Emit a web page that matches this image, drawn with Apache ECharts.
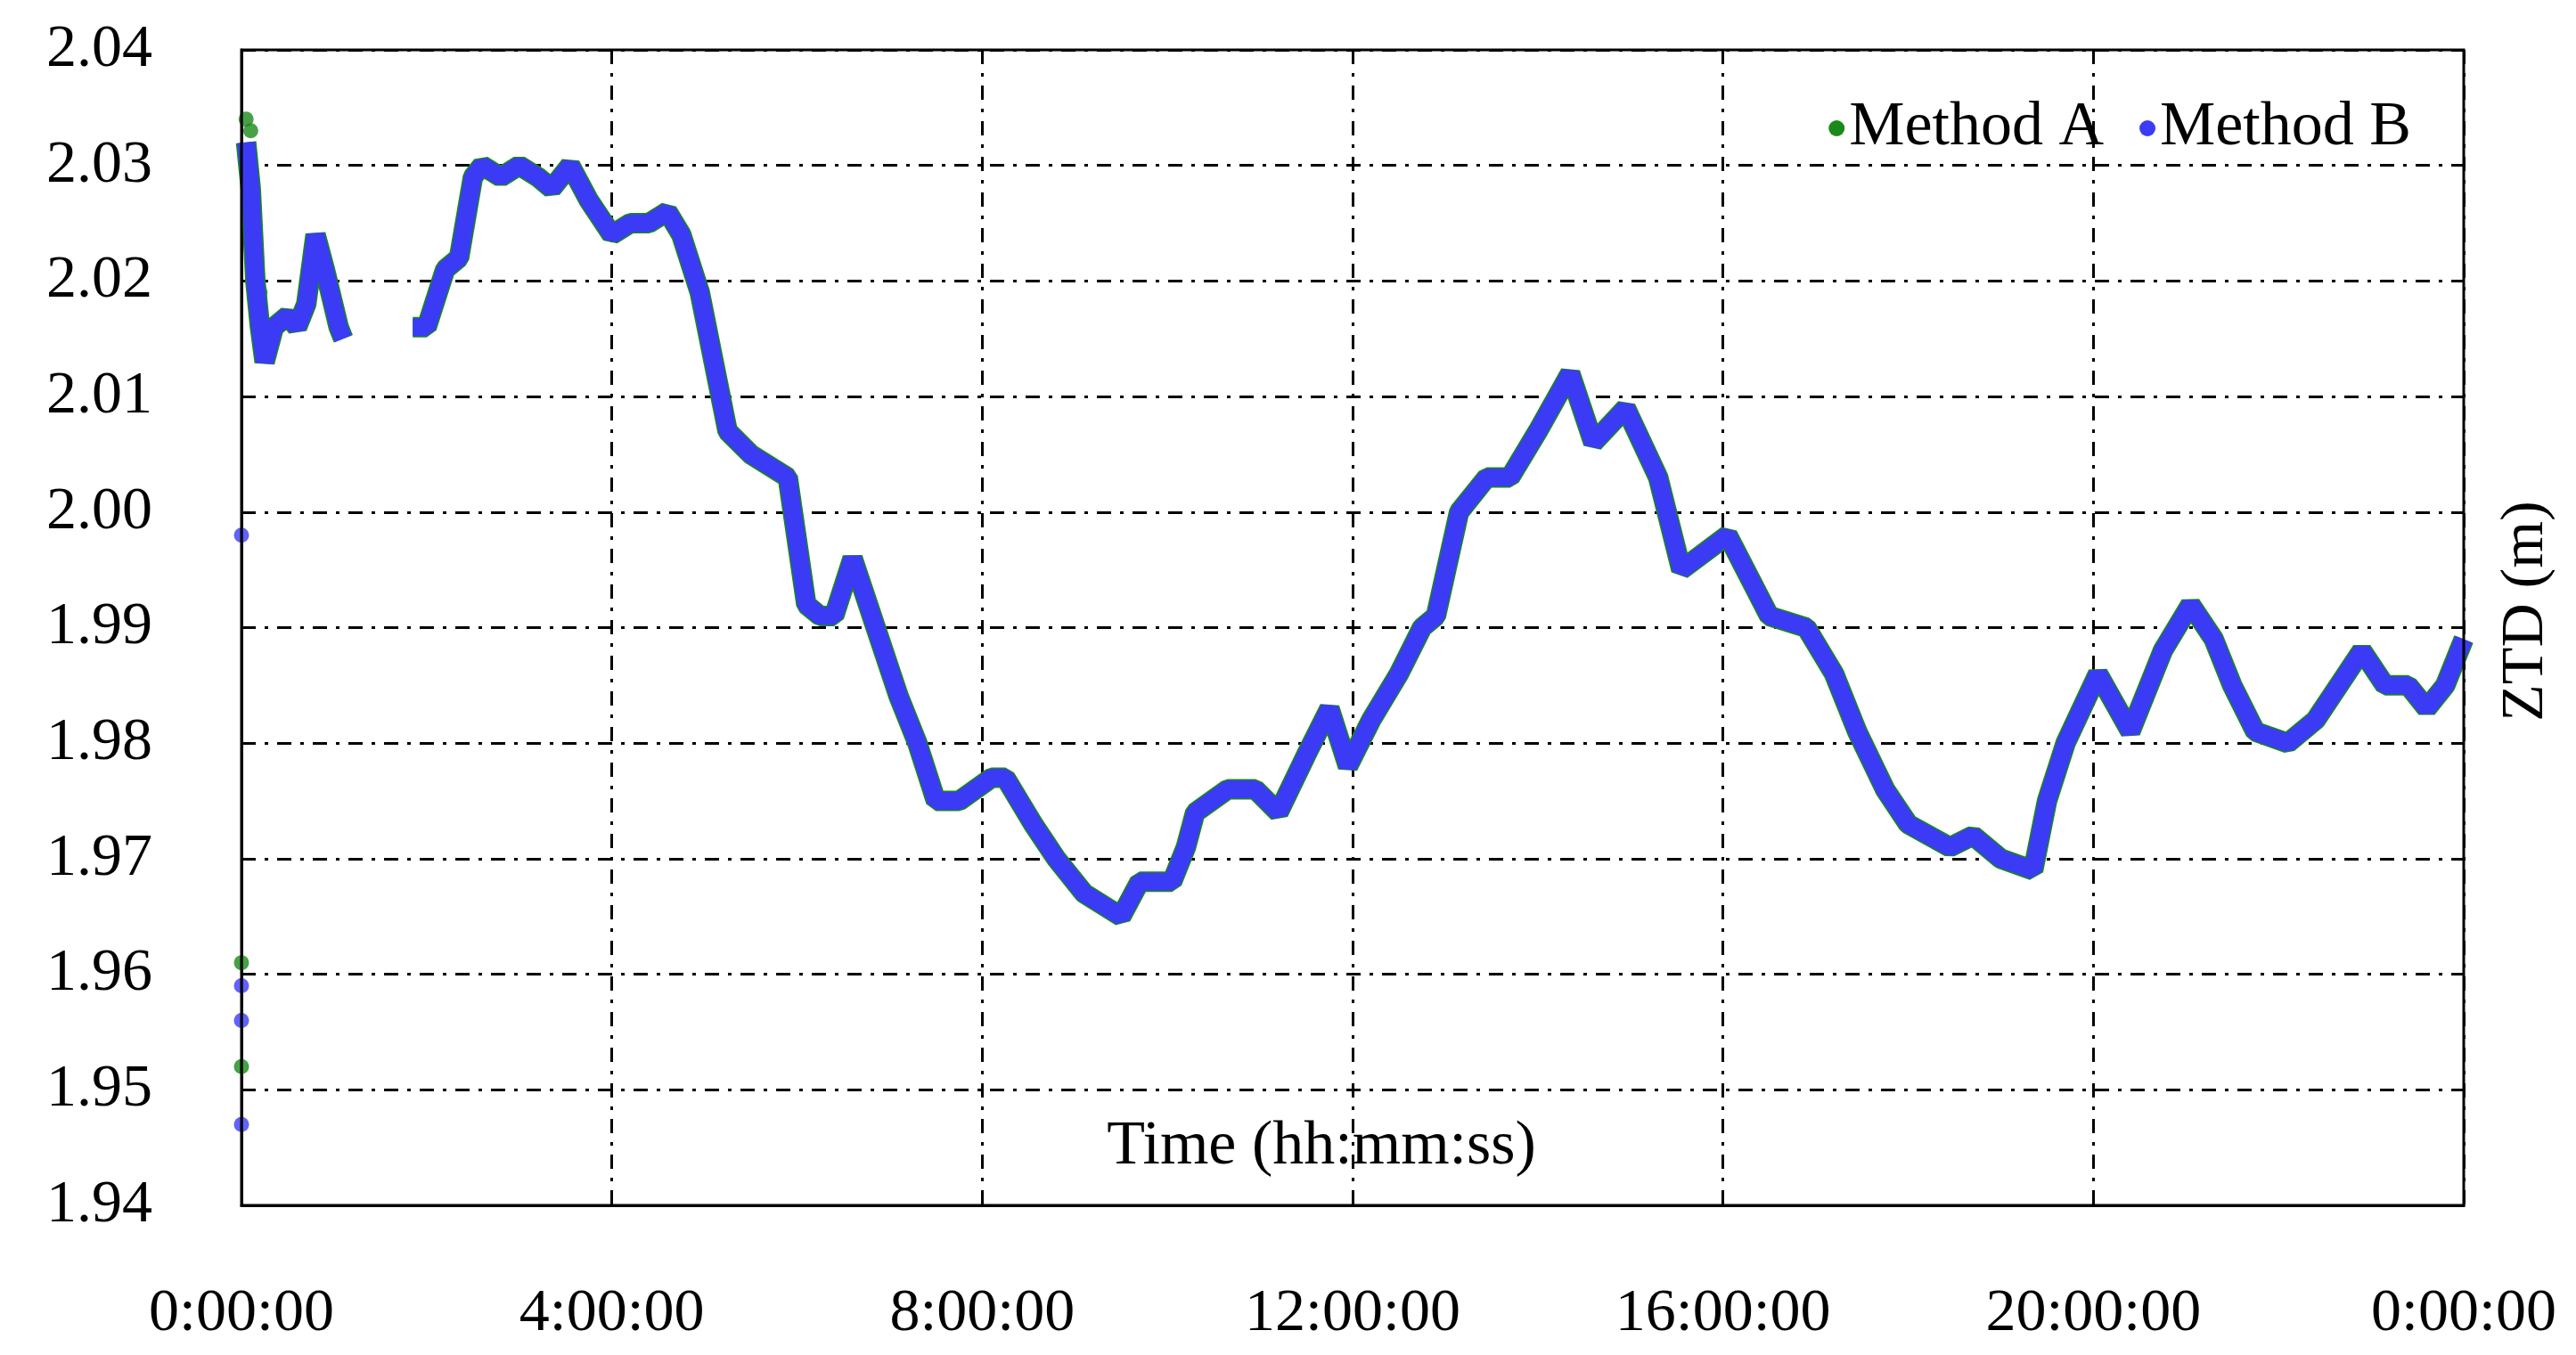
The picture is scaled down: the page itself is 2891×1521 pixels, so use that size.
<!DOCTYPE html>
<html><head><meta charset="utf-8">
<script src="https://cdn.jsdelivr.net/npm/echarts@6/dist/echarts.min.js"></script>
<style>html,body{margin:0;background:#fff}#c{width:2891px;height:1521px}</style>
</head><body><div id="c"></div>
<script>
const hours=[0.05,0.1,0.15,0.2,0.25,0.35,0.5,0.6,0.7,0.8,0.9,1.05,1.1,null,1.85,2.0,2.2,2.35,2.5,2.6,2.8,3.0,3.2,3.35,3.55,3.75,4.0,4.2,4.4,4.6,4.75,4.95,5.1,5.25,5.5,5.9,6.1,6.25,6.4,6.6,6.85,7.1,7.3,7.5,7.75,8.1,8.25,8.55,8.8,9.1,9.3,9.5,9.7,10.05,10.2,10.3,10.65,10.95,11.2,11.5,11.75,11.95,12.2,12.5,12.75,12.9,13.15,13.45,13.7,14.0,14.35,14.6,14.95,15.3,15.55,16.05,16.5,16.9,17.2,17.45,17.75,18.0,18.45,18.7,19.0,19.35,19.5,19.7,20.05,20.4,20.75,21.05,21.3,21.5,21.75,22.1,22.4,22.65,22.9,23.15,23.4,23.6,23.8,24.0];
const ztdB=[2.032,2.028,2.02,2.016,2.013,2.016,2.017,2.016,2.018,2.024,2.021,2.016,2.015,null,2.016,2.016,2.021,2.022,2.029,2.030,2.029,2.030,2.029,2.028,2.030,2.027,2.024,2.025,2.025,2.026,2.024,2.019,2.013,2.007,2.005,2.003,1.992,1.991,1.991,1.996,1.990,1.984,1.980,1.975,1.975,1.977,1.977,1.973,1.970,1.967,1.966,1.965,1.968,1.968,1.971,1.974,1.976,1.976,1.974,1.979,1.983,1.978,1.982,1.986,1.990,1.991,2.000,2.003,2.003,2.007,2.012,2.006,2.009,2.003,1.995,1.998,1.991,1.990,1.986,1.981,1.976,1.973,1.971,1.972,1.970,1.969,1.975,1.980,1.986,1.981,1.988,1.992,1.989,1.985,1.981,1.980,1.982,1.985,1.988,1.985,1.985,1.983,1.985,1.989];
const outA=[[0.05,2.034],[0.1,2.033],[0.2,2.019],[0,1.961],[0,1.952]];
const outB=[[0,1.998],[0,1.959],[0,1.956],[0,1.947]];
const xTicks=['0:00:00','4:00:00','8:00:00','12:00:00','16:00:00','20:00:00','0:00:00'];
const F='Liberation Serif';
const lineB=hours.map((h,i)=>h===null?[null,null]:[h,ztdB[i]]);
const grid=[16,10,4,10];
const ch=echarts.init(document.getElementById('c'));
ch.setOption({
 animation:false,
 grid:{left:271,right:126,top:56,bottom:168},
 legend:{right:180,top:104,itemGap:40,icon:'circle',itemWidth:18,itemHeight:18,textStyle:{fontFamily:F,fontSize:70,color:'#000'},data:['Method A','Method B']},
 xAxis:{type:'value',min:0,max:24,interval:4,
  axisLine:{lineStyle:{color:'#000',width:3}},axisTick:{show:false},
  axisLabel:{fontFamily:F,fontSize:68,color:'#000',margin:88,formatter:v=>xTicks[Math.round(v/4)]},
  splitLine:{lineStyle:{color:'#000',width:3,type:grid}}},
 yAxis:{type:'value',min:1.94,max:2.04,interval:0.01,
  axisLine:{show:true,lineStyle:{color:'#000',width:3}},axisTick:{show:false},
  axisLabel:{fontFamily:F,fontSize:68,color:'#000',margin:100,formatter:v=>v.toFixed(2)},
  splitLine:{lineStyle:{color:'#000',width:3,type:grid}}},
 graphic:[
  {type:'rect',shape:{x:271,y:56,width:2494,height:1297},style:{fill:'none',stroke:'#000',lineWidth:3},z:100},
  {type:'text',x:1483,y:1288,style:{text:'Time (hh:mm:ss)',font:'70px "Liberation Serif"',fill:'#000',align:'center',verticalAlign:'middle'},z:100},
  {type:'text',x:2835,y:686,rotation:Math.PI/2,style:{text:'ZTD (m)',font:'68px "Liberation Serif"',fill:'#000',align:'center',verticalAlign:'middle'},z:100}
 ],
 series:[
  {name:'Method A',type:'line',data:lineB,showSymbol:false,connectNulls:false,lineStyle:{color:'#1a8a1a',width:23},itemStyle:{color:'#1a8a1a'}},
  {name:'Method A',type:'scatter',data:outA,symbolSize:17,itemStyle:{color:'#1a8a1a'}},
  {name:'Method B',type:'line',data:lineB,showSymbol:false,connectNulls:false,lineStyle:{color:'#3b3bf5',width:20},itemStyle:{color:'#3b3bf5'}},
  {name:'Method B',type:'scatter',data:outB,symbolSize:17,itemStyle:{color:'#3b3bf5'}}
 ]
});
</script></body></html>
